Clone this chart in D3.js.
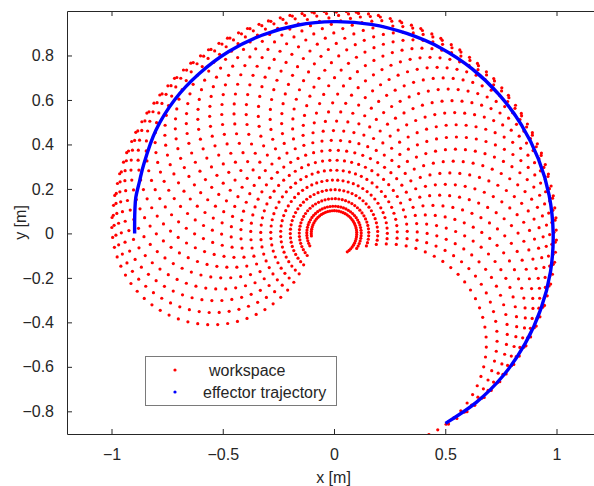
<!DOCTYPE html>
<html>
<head>
<meta charset="utf-8">
<script src="https://cdn.jsdelivr.net/npm/d3@7"></script>
<style>
  body { margin: 0; background: #fff; }
  text { font-family: "Liberation Sans", Arial, sans-serif; fill: #262626; }
</style>
</head>
<body>
<div id="chart"></div>
<script>
// link lengths of the two-link arm [m]
const linkLengths = [0.55, 0.45];

// sampled joint angles [rad]
const theta1 = [-1.13, -1.03, -0.93, -0.83, -0.73, -0.63, -0.53, -0.43, -0.33, -0.23,
    -0.13, -0.03, 0.07, 0.17, 0.27, 0.37, 0.47, 0.57, 0.67, 0.77,
    0.87, 0.97, 1.07, 1.17, 1.27, 1.37, 1.47, 1.57, 1.67, 1.77,
    1.87, 1.97, 2.07, 2.17, 2.27, 2.37, 2.47, 2.57, 2.67, 2.77,
    2.87, 2.97, 3.07];
const theta2 = [0, 0.1, 0.2, 0.3, 0.4, 0.5, 0.6, 0.7, 0.8, 0.9,
    1.0, 1.1, 1.2, 1.3, 1.4, 1.5, 1.6, 1.7, 1.8, 1.9,
    2.0, 2.1, 2.2, 2.3, 2.4, 2.5, 2.6, 2.7, 2.8, 2.9, 3.0, 3.1];

// end effector trajectory [m]
const trajX = [-0.896, -0.896, -0.895, -0.891, -0.874, -0.855, -0.801, -0.716, -0.604, -0.473,
    -0.324, -0.165, 0.0, 0.166, 0.327, 0.481, 0.621, 0.743, 0.843, 0.919,
    0.967, 0.985, 0.973, 0.930, 0.859, 0.761, 0.638, 0.501];
const trajY = [0.0, 0.05, 0.1, 0.16, 0.234, 0.311, 0.463, 0.601, 0.72, 0.818,
    0.891, 0.936, 0.952, 0.94, 0.899, 0.833, 0.74, 0.623, 0.487, 0.334,
    0.171, 0.0, -0.172, -0.339, -0.496, -0.639, -0.761, -0.854];

const xTicks = [-1, -0.5, 0, 0.5, 1];
const yTicks = [-0.8, -0.6, -0.4, -0.2, 0, 0.2, 0.4, 0.6, 0.8];
const legendLabels = ["workspace", "effector trajectory"];

const W = 594, H = 486;
const plot = { left: 67, right: 601, top: 11, bottom: 434 };

const svg = d3.select("#chart").append("svg")
    .attr("width", W)
    .attr("height", H);

const x = d3.scaleLinear().domain([-1.2, 1.2]).range([plot.left, plot.right]);
const y = d3.scaleLinear().domain([-0.902, 1.0]).range([plot.bottom, plot.top]);

svg.append("clipPath").attr("id", "clip")
    .append("rect")
    .attr("x", plot.left).attr("y", plot.top)
    .attr("width", plot.right - plot.left)
    .attr("height", plot.bottom - plot.top);

// forward kinematics for every joint angle pair
const [L1, L2] = linkLengths;
const workspace = [];
theta1.forEach(t1 => {
    theta2.forEach(t2 => {
        workspace.push({
            x: L1 * Math.cos(t1) + L2 * Math.cos(t1 + t2),
            y: L1 * Math.sin(t1) + L2 * Math.sin(t1 + t2)
        });
    });
});

const g = svg.append("g").attr("clip-path", "url(#clip)");

g.selectAll("circle.ws")
    .data(workspace)
    .enter()
    .append("circle")
    .attr("class", "ws")
    .attr("cx", d => x(d.x))
    .attr("cy", d => y(d.y))
    .attr("r", 1.6)
    .attr("fill", "#ff0000");

const traj = trajX.map((v, i) => [v, trajY[i]]);
g.append("path")
    .datum(traj)
    .attr("d", d3.line().x(d => x(d[0])).y(d => y(d[1])).curve(d3.curveCatmullRom))
    .attr("fill", "none")
    .attr("stroke", "#0000ff")
    .attr("stroke-width", 3.4);

// axes box with inward ticks
const axisColor = "#262626";
const tick = 5;

svg.append("g")
    .attr("transform", `translate(0,${plot.bottom})`)
    .call(d3.axisBottom(x).tickValues(xTicks).tickSizeInner(-tick).tickSizeOuter(0)
        .tickPadding(15).tickFormat(d3.format("")))
    .call(a => a.select(".domain").attr("stroke", axisColor))
    .call(a => a.selectAll(".tick line").attr("stroke", axisColor))
    .call(a => a.selectAll("text").attr("font-size", 16).attr("fill", axisColor)
        .attr("font-family", "Liberation Sans, Arial, sans-serif"));

svg.append("g")
    .attr("transform", `translate(0,${plot.top})`)
    .call(d3.axisTop(x).tickValues(xTicks).tickSizeInner(-tick).tickSizeOuter(0).tickFormat(""))
    .call(a => a.select(".domain").attr("stroke", axisColor))
    .call(a => a.selectAll(".tick line").attr("stroke", axisColor));

svg.append("g")
    .attr("transform", `translate(${plot.left},0)`)
    .call(d3.axisLeft(y).tickValues(yTicks).tickSizeInner(-tick).tickSizeOuter(0)
        .tickPadding(13).tickFormat(d3.format("")))
    .call(a => a.select(".domain").attr("stroke", axisColor))
    .call(a => a.selectAll(".tick line").attr("stroke", axisColor))
    .call(a => a.selectAll("text").attr("font-size", 16).attr("fill", axisColor)
        .attr("font-family", "Liberation Sans, Arial, sans-serif"));

svg.append("text")
    .attr("x", (plot.left + 601) / 2 - 0.5)
    .attr("y", 483)
    .attr("text-anchor", "middle")
    .attr("font-size", 16)
    .text("x [m]");

svg.append("text")
    .attr("transform", `translate(26,${(plot.top + plot.bottom) / 2}) rotate(-90)`)
    .attr("text-anchor", "middle")
    .attr("font-size", 16)
    .text("y [m]");

// legend
const legend = svg.append("g");
legend.append("rect")
    .attr("x", 145.5).attr("y", 356.5)
    .attr("width", 191).attr("height", 49)
    .attr("fill", "#fff")
    .attr("stroke", "#7a7a7a");

const legendColors = ["#ff0000", "#0000ff"];
const legendTextX = [209, 203];
legendLabels.forEach((lab, i) => {
    const cy = 370 + i * 22;
    legend.append("circle")
        .attr("cx", 175).attr("cy", cy).attr("r", 1.6)
        .attr("fill", legendColors[i]);
    legend.append("text")
        .attr("x", legendTextX[i])
        .attr("y", cy + 6)
        .attr("font-size", 16)
        .text(lab);
});
</script>
</body>
</html>
